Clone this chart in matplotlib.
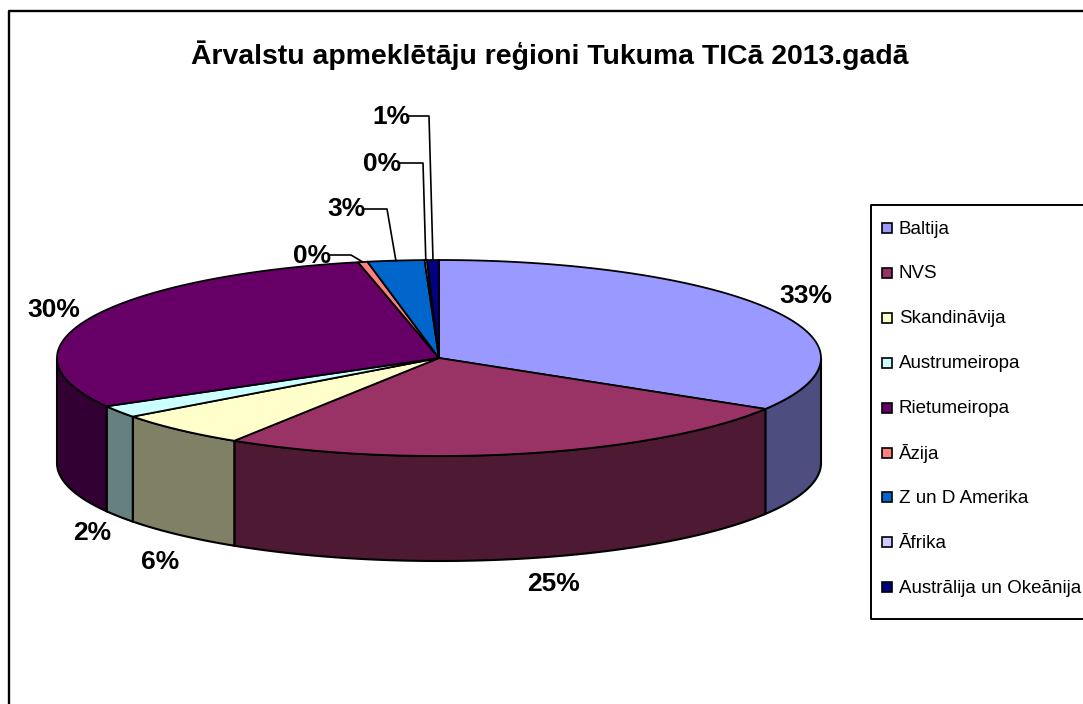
import numpy as np
import matplotlib.pyplot as plt
from matplotlib.patches import Polygon, Rectangle

plt.rcParams['font.family'] = ['Liberation Sans', 'DejaVu Sans']

# Dati
regions = ['Baltija', 'NVS', 'Skandināvija', 'Austrumeiropa', 'Rietumeiropa',
           'Āzija', 'Z un D Amerika', 'Āfrika', 'Austrālija un Okeānija']
values = [33.7, 25.3, 5.8, 2.0, 29.8, 0.4, 2.4, 0.1, 0.5]
pct_labels = ['33%', '25%', '6%', '2%', '30%', '0%', '3%', '0%', '1%']
colors = ['#9999FF', '#993366', '#FFFFCC', '#CCFFFF', '#660066',
          '#FF8080', '#0066CC', '#CCCCFF', '#000080']
side_colors = ['#4D4D80', '#4D1933', '#808066', '#668080', '#330033',
               '#804040', '#003366', '#666680', '#000040']

# Izkārtojums pikseļos
cx, cy = 439, 358
rx, ry = 382, 98
depth = 105
label_pos = [(806, 296), (554, 584), (160, 562), (92, 533), (54, 310),
             (312, 256), (346, 209), (382, 164), (391, 117)]
leader_from = {5: (329, 255, 351), 6: (364, 209, 387), 7: (399, 163, 423), 8: (407, 116, 429)}


def rim(t):
    # t grādos, pulksteņrādītāja virzienā no augšas
    r = np.radians(t)
    return cx + rx * np.sin(r), cy - ry * np.cos(r)


fig = plt.figure(figsize=(10.83, 7.04), dpi=100)
ax = fig.add_axes([0, 0, 1, 1])
ax.set_xlim(0, 1083)
ax.set_ylim(704, 0)
ax.axis('off')

# Ārējais rāmis
ax.plot([8.5, 8.5, 1083], [704, 11, 11], color='black', lw=1.7)

edges = np.cumsum([0] + values) / sum(values) * 360

# Sānu malas
for i in range(len(values)):
    a, b = max(edges[i], 90), min(edges[i + 1], 270)
    if b <= a:
        continue
    t = np.linspace(a, b, 120)
    x, y = rim(t)
    pts = np.r_[np.c_[x, y], np.c_[x[::-1], y[::-1] + depth]]
    ax.add_patch(Polygon(pts, closed=True, fc=side_colors[i], ec='black', lw=1.5, zorder=2))

# Virsma
for i in range(len(values)):
    t = np.linspace(edges[i], edges[i + 1], 120)
    x, y = rim(t)
    pts = np.r_[[[cx, cy]], np.c_[x, y]]
    ax.add_patch(Polygon(pts, closed=True, fc=colors[i], ec='black', lw=1.3, zorder=3))

# Procentu etiķetes un līnijas
for i, lab in enumerate(pct_labels):
    ax.text(label_pos[i][0], label_pos[i][1], lab, fontsize=19, fontweight='bold',
            ha='center', va='center', zorder=6)
    if i in leader_from:
        x0, y0, x1 = leader_from[i]
        ex, ey = rim((edges[i] + edges[i + 1]) / 2)
        ax.plot([x0, x1, ex], [y0, y0, ey], color='black', lw=1.2, zorder=5)

ax.text(550, 55, 'Ārvalstu apmeklētāju reģioni Tukuma TICā 2013.gadā', fontsize=20.4,
        fontweight='bold', ha='center', va='center')

# Leģenda
ax.plot([1083, 870.5, 870.5, 1083], [205, 205, 619, 619], color='black', lw=1.4)
for i, name in enumerate(regions):
    y = 228 + i * 44.9
    ax.add_patch(Rectangle((881.5, y - 5), 10, 10, fc=colors[i], ec='black', lw=1.2))
    ax.text(899, y + 1, name, fontsize=13.5, ha='left', va='center')

fig.savefig('out.png', dpi=100)
